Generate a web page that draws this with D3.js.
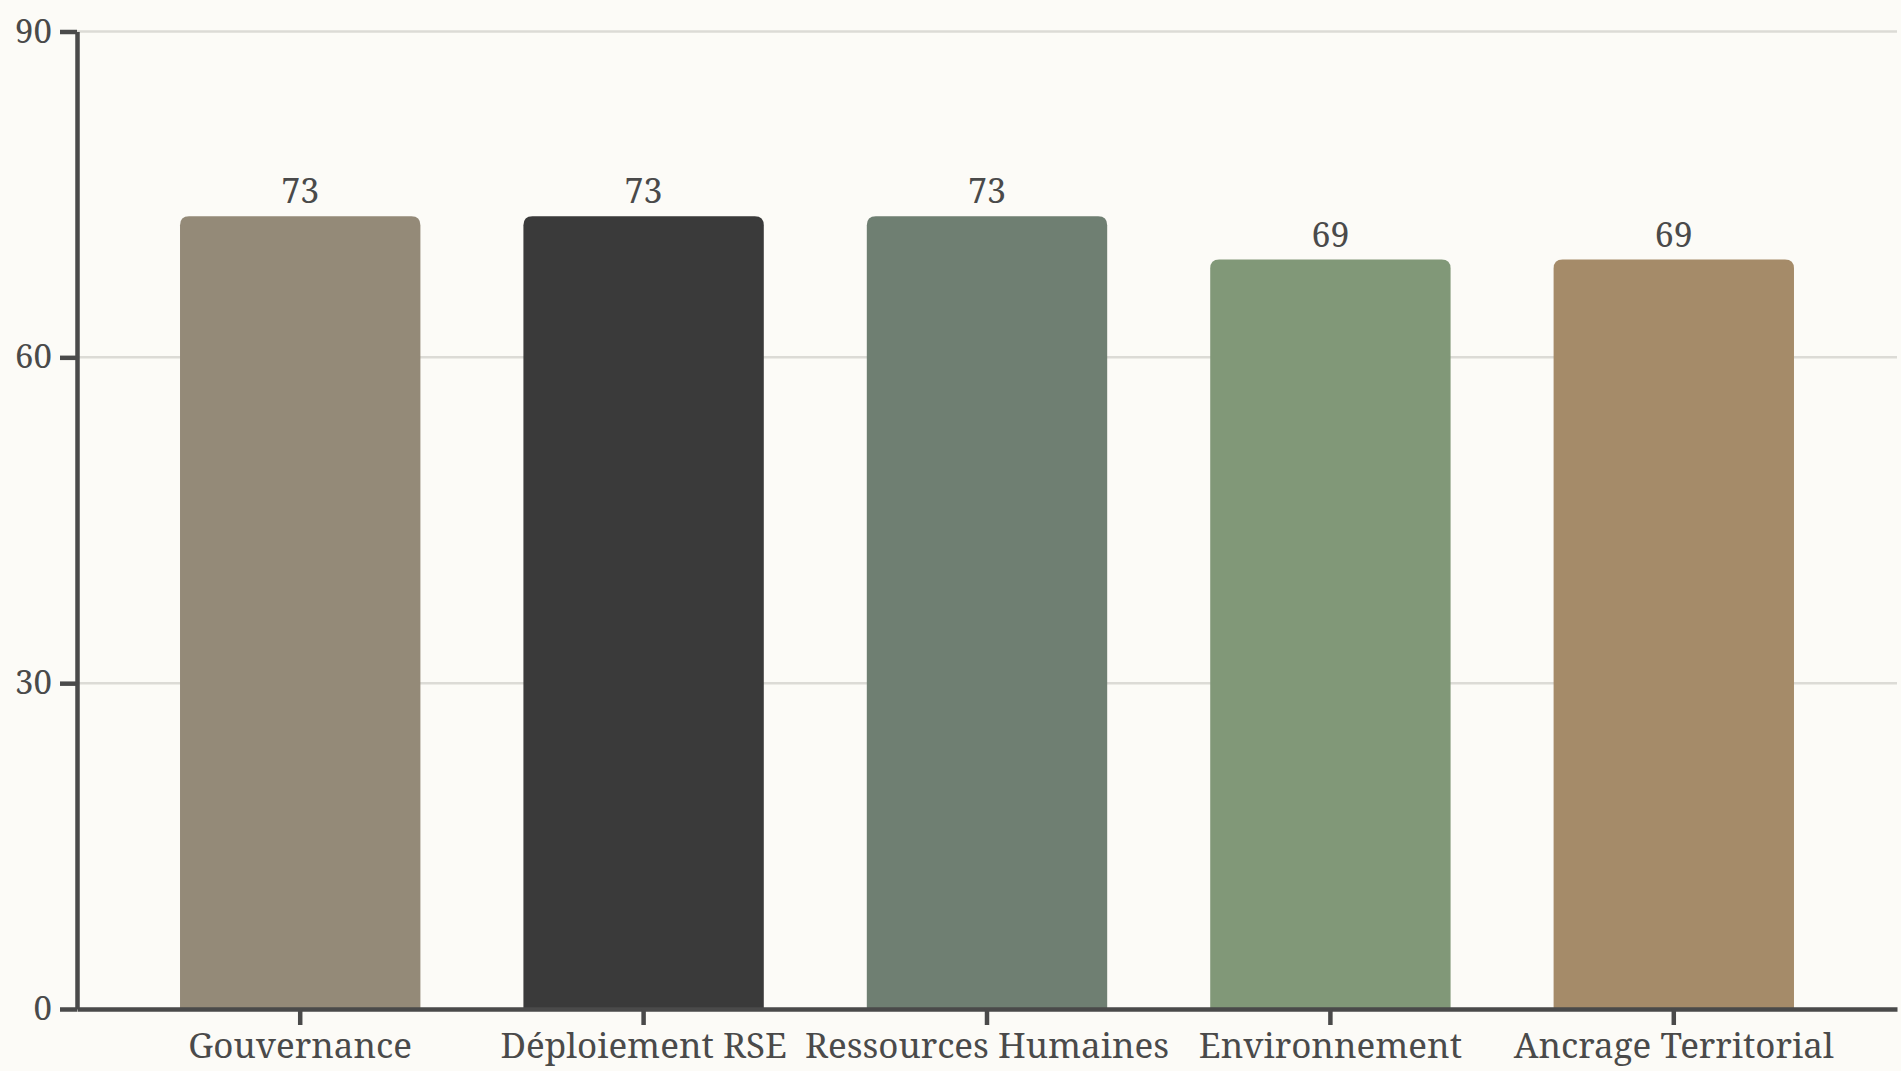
<!DOCTYPE html>
<html>
<head>
<meta charset="utf-8">
<script src="https://cdn.jsdelivr.net/npm/d3@7"></script>
<style>
  html, body { margin: 0; padding: 0; background: #fcfbf7; }
  svg { display: block; font-family: "Noto Serif", "DejaVu Serif", serif; }
  .axis path, .axis line { stroke: #4a4a4a; stroke-width: 4.5; }
  .axis text { fill: #4a4a4a; font-size: 33px; }
  .x.axis text { font-size: 35px; }
  .grid line { stroke: #dcdbd6; stroke-width: 2.5; }
  .label { fill: #4a4a4a; font-size: 34px; }
</style>
</head>
<body>
<div id="chart"></div>
<script>
var categories = ["Gouvernance", "Déploiement RSE", "Ressources Humaines", "Environnement", "Ancrage Territorial"];
var values = [73, 73, 73, 69, 69];
var colors = ["#948a78", "#3a3a3a", "#6f7f72", "#819878", "#a58b69"];
var yTicks = [0, 30, 60, 90];

var W = 1901, H = 1071;
var margin = {top: 31.5, right: 4, bottom: 62, left: 77};
var width = W - margin.left - margin.right;
var height = H - margin.top - margin.bottom;

var svg = d3.select("#chart").append("svg")
    .attr("width", W)
    .attr("height", H);

var g = svg.append("g")
    .attr("transform", "translate(" + margin.left + "," + margin.top + ")");

var x = d3.scaleBand()
    .domain(categories)
    .range([0, width])
    .paddingInner(0.3)
    .paddingOuter(0.3);

var y = d3.scaleLinear()
    .domain([0, 90])
    .range([height, 0]);

// gridlines
g.append("g")
    .attr("class", "grid")
    .selectAll("line")
    .data(yTicks.filter(d => d > 0))
    .enter()
    .append("line")
    .attr("x1", 0)
    .attr("x2", width)
    .attr("y1", d => y(d))
    .attr("y2", d => y(d));

// bars with rounded top corners
var r = 9;
function barPath(d, i) {
    var x0 = x(categories[i]), x1 = x0 + x.bandwidth();
    var y0 = y(d), yb = y(0);
    return "M" + x0 + "," + yb +
        "V" + (y0 + r) +
        "Q" + x0 + "," + y0 + " " + (x0 + r) + "," + y0 +
        "H" + (x1 - r) +
        "Q" + x1 + "," + y0 + " " + x1 + "," + (y0 + r) +
        "V" + yb + "Z";
}

g.selectAll(".bar")
    .data(values)
    .enter()
    .append("path")
    .attr("class", "bar")
    .attr("d", barPath)
    .attr("fill", (d, i) => colors[i]);

g.selectAll(".label")
    .data(values)
    .enter()
    .append("text")
    .attr("class", "label")
    .attr("x", (d, i) => x(categories[i]) + x.bandwidth() / 2)
    .attr("y", d => y(d) - 13)
    .attr("text-anchor", "middle")
    .text(d => d);

var xAxis = g.append("g")
    .attr("class", "x axis")
    .attr("transform", "translate(0," + height + ")")
    .call(d3.axisBottom(x).tickSize(16).tickSizeOuter(0).tickPadding(8));

var yAxis = g.append("g")
    .attr("class", "y axis")
    .call(d3.axisLeft(y).tickValues(yTicks).tickSize(17).tickSizeOuter(0).tickPadding(8));

svg.selectAll(".axis").attr("font-family", null).attr("font-size", null);
</script>
</body>
</html>
